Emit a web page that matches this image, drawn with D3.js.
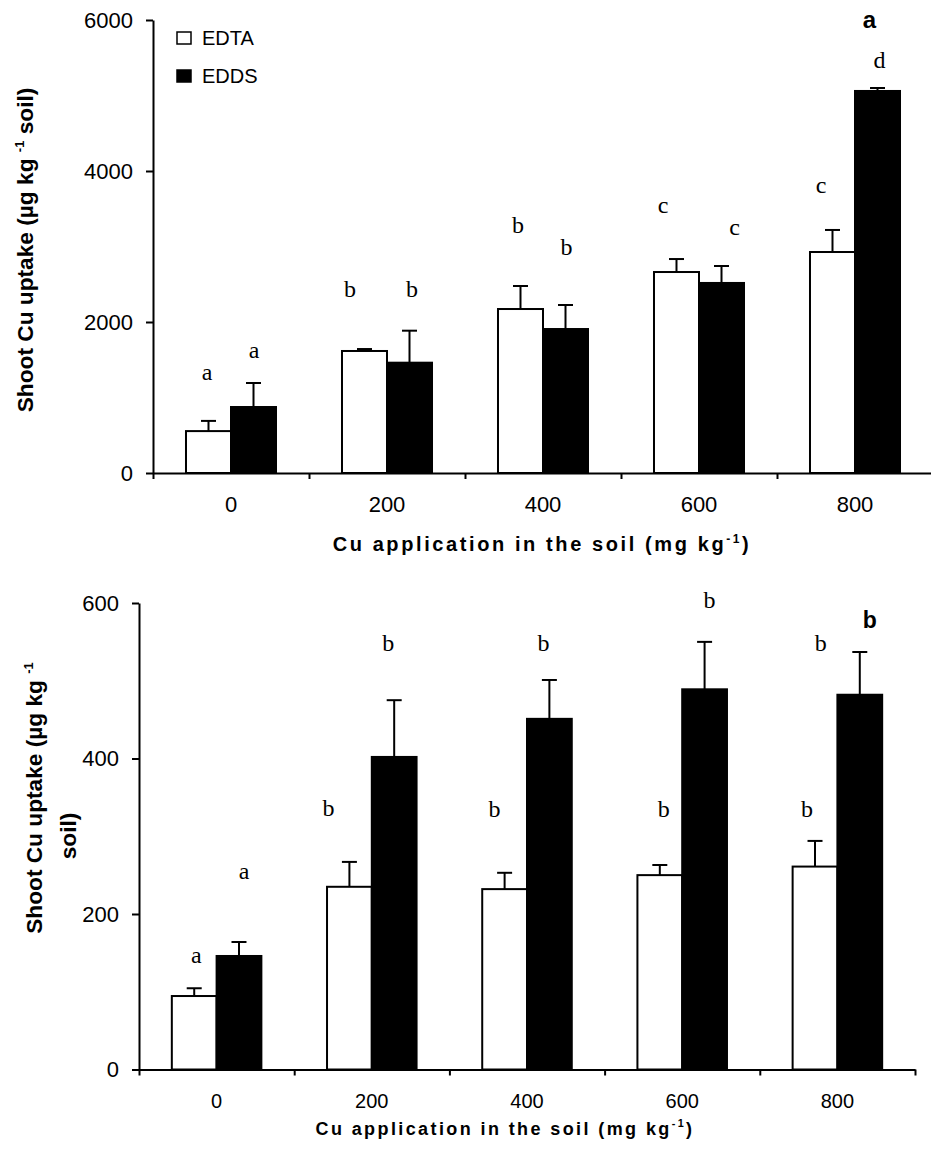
<!DOCTYPE html>
<html>
<head>
<meta charset="utf-8">
<script src="https://cdn.jsdelivr.net/npm/d3@7"></script>
<style>
  html, body { margin: 0; padding: 0; background: #fff; }
  svg { display: block; }
</style>
</head>
<body>
<svg id="fig" width="931" height="1158"></svg>
<script>
// ---- Data ----
const doses = ["0", "200", "400", "600", "800"];
const seriesNames = ["EDTA", "EDDS"];

// Panel a: shoot Cu uptake (µg kg-1 soil)
const edtaA = [555, 1616, 2172, 2662, 2927];
const edtaAErr = [135, 26, 305, 172, 292];
const eddsA = [874, 1461, 1907, 2517, 5060];
const eddsAErr = [318, 424, 318, 225, 39];
const edtaALetters = ["a", "b", "b", "c", "c"];
const eddsALetters = ["a", "b", "b", "c", "d"];
const edtaALetterLevel = [1232, 2331, 3179, 3444, 3709];
const eddsALetterLevel = [1523, 2331, 2887, 3152, 5364];
const yTicksA = [0, 2000, 4000, 6000];

// Panel b: shoot Cu uptake (µg kg-1 soil)
const edtaB = [94.5, 235, 232, 250, 261];
const edtaBErr = [10, 32, 21, 13, 33];
const eddsB = [146, 402, 451, 489, 482];
const eddsBErr = [18, 73, 50, 61, 55];
const edtaBLetters = ["a", "b", "b", "b", "b"];
const eddsBLetters = ["a", "b", "b", "b", "b"];
const edtaBLetterLevel = [137, 326, 325, 325, 325];
const eddsBLetterLevel = [245, 538, 538, 594, 538];
const yTicksB = [0, 200, 400, 600];

// ---- Layout ----
const SANS = "'Liberation Sans', Arial, Helvetica, sans-serif";
const SERIF = "'Liberation Serif', 'Times New Roman', serif";

const panels = [
  {
    edta: edtaA, edtaErr: edtaAErr, edds: eddsA, eddsErr: eddsAErr,
    edtaLetters: edtaALetters, eddsLetters: eddsALetters,
    edtaLevel: edtaALetterLevel, eddsLevel: eddsALetterLevel,
    yTicks: yTicksA, yMax: 6000,
    x0: 153, x1: 933, yTop: 20, yBottom: 473,
    edtaNudge: [-1.5, -14.5, -2.5, -13.5, -11.5],
    eddsNudge: [0.5, 2.5, 1, 13, 2],
    tag: "a", tagLevel: 5894, tagNudge: -8, tagSize: 24,
    xTickSize: 22, xLabelY: 551, xLabelX: 542, xLabelSize: 20, xLabelSpacing: 2.6,
    yTitleLines: [{ x: 33, y: 250, main: "Shoot Cu uptake (µg kg ", sup: "-1", tail: " soil)" }],
    legend: true
  },
  {
    edta: edtaB, edtaErr: edtaBErr, edds: eddsB, eddsErr: eddsBErr,
    edtaLetters: edtaBLetters, eddsLetters: eddsBLetters,
    edtaLevel: edtaBLetterLevel, eddsLevel: eddsBLetterLevel,
    yTicks: yTicksB, yMax: 600,
    x0: 139, x1: 915, yTop: 603, yBottom: 1069.5,
    edtaNudge: [2, -21, -10, 4, -8],
    eddsNudge: [5, -6, -6, 5, -39],
    tag: "b", tagLevel: 568, tagNudge: 10, tagSize: 23,
    xTickSize: 20, xLabelY: 1135, xLabelX: 505, xLabelSize: 18, xLabelSpacing: 2.4,
    yTitleLines: [
      { x: 42, y: 798, main: "Shoot Cu uptake (µg kg ", sup: "-1", tail: "" },
      { x: 76, y: 836, main: "soil)", sup: "", tail: "" }
    ],
    legend: false
  }
];

const svg = d3.select("#fig");
svg.append("rect").attr("width", 931).attr("height", 1158).attr("fill", "#fff");

function drawPanel(p) {
  const g = svg.append("g");

  const x = d3.scaleBand().domain(doses).range([p.x0, p.x1])
    .paddingInner(0.423).paddingOuter(0.2115);
  const xs = d3.scaleBand().domain(seriesNames).range([0, x.bandwidth()]);
  const y = d3.scaleLinear().domain([0, p.yMax]).range([p.yBottom, p.yTop]);
  const xEdges = d3.scaleLinear().domain([0, doses.length]).range([p.x0, p.x1]);

  const rows = doses.map((d, i) => ({
    dose: d,
    EDTA: { v: p.edta[i], e: p.edtaErr[i], letter: p.edtaLetters[i], level: p.edtaLevel[i], nudge: p.edtaNudge[i] },
    EDDS: { v: p.edds[i], e: p.eddsErr[i], letter: p.eddsLetters[i], level: p.eddsLevel[i], nudge: p.eddsNudge[i] }
  }));

  const fillOf = { EDTA: "#fff", EDDS: "#000" };

  // bars, error bars and significance letters
  seriesNames.forEach(s => {
    const items = rows.map(r => Object.assign({ dose: r.dose }, r[s]));
    const cx = d => x(d.dose) + xs(s) + xs.bandwidth() / 2;

    g.selectAll(null).data(items).join("rect")
      .attr("x", d => x(d.dose) + xs(s))
      .attr("y", d => y(d.v))
      .attr("width", xs.bandwidth())
      .attr("height", d => y(0) - y(d.v))
      .attr("fill", fillOf[s])
      .attr("stroke", "#000")
      .attr("stroke-width", 2);

    g.selectAll(null).data(items).join("line")
      .attr("x1", cx).attr("x2", cx)
      .attr("y1", d => y(d.v)).attr("y2", d => y(d.v + d.e))
      .attr("stroke", "#000").attr("stroke-width", 2);

    g.selectAll(null).data(items).join("line")
      .attr("x1", d => cx(d) - 7.5).attr("x2", d => cx(d) + 7.5)
      .attr("y1", d => y(d.v + d.e)).attr("y2", d => y(d.v + d.e))
      .attr("stroke", "#000").attr("stroke-width", 2);

    g.selectAll(null).data(items).join("text")
      .attr("x", d => cx(d) + d.nudge)
      .attr("y", d => y(d.level))
      .attr("text-anchor", "middle")
      .attr("font-family", SERIF)
      .attr("font-size", 24)
      .attr("fill", "#000")
      .text(d => d.letter);
  });

  // panel tag
  const lastDose = doses[doses.length - 1];
  g.append("text")
    .attr("x", x(lastDose) + xs("EDDS") + xs.bandwidth() / 2 + p.tagNudge)
    .attr("y", y(p.tagLevel))
    .attr("text-anchor", "middle")
    .attr("font-family", SANS)
    .attr("font-weight", "bold")
    .attr("font-size", p.tagSize)
    .text(p.tag);

  // x axis: category boundary ticks
  g.append("g")
    .attr("transform", `translate(0,${p.yBottom})`)
    .call(d3.axisBottom(xEdges).tickValues(d3.range(doses.length + 1))
      .tickFormat("").tickSize(6).tickSizeOuter(0))
    .call(a => a.selectAll("path,line").attr("stroke", "#000").attr("stroke-width", 2));

  // x axis: category labels
  g.append("g")
    .attr("transform", `translate(0,${p.yBottom})`)
    .call(d3.axisBottom(x).tickSize(0))
    .call(a => a.select(".domain").remove())
    .call(a => a.selectAll("text")
      .attr("y", 38.5).attr("dy", null)
      .attr("font-family", SANS)
      .attr("font-size", p.xTickSize)
      .attr("fill", "#000"));

  // y axis
  g.append("g")
    .attr("transform", `translate(${p.x0},0)`)
    .call(d3.axisLeft(y).tickValues(p.yTicks).tickFormat(d3.format("d"))
      .tickSize(7).tickPadding(13).tickSizeOuter(0))
    .call(a => a.selectAll("path,line").attr("stroke", "#000").attr("stroke-width", 2))
    .call(a => a.selectAll("text")
      .attr("font-family", SANS)
      .attr("font-size", 22)
      .attr("fill", "#000"));

  // x axis title
  const xt = g.append("text")
    .attr("x", p.xLabelX).attr("y", p.xLabelY)
    .attr("text-anchor", "middle")
    .attr("font-family", SANS).attr("font-weight", "bold")
    .attr("font-size", p.xLabelSize)
    .style("letter-spacing", p.xLabelSpacing + "px");
  xt.append("tspan").text("Cu application in the soil (mg kg");
  xt.append("tspan").attr("dy", -8).attr("font-size", p.xLabelSize * 0.6).text("-1");
  xt.append("tspan").attr("dy", 8).text(")");

  // y axis title
  p.yTitleLines.forEach(line => {
    const t = g.append("text")
      .attr("transform", `translate(${line.x},${line.y}) rotate(-90)`)
      .attr("text-anchor", "middle")
      .attr("font-family", SANS).attr("font-weight", "bold")
      .attr("font-size", 22.7);
    t.append("tspan").text(line.main);
    if (line.sup) {
      t.append("tspan").attr("dy", -9).attr("font-size", 13).text(line.sup);
      if (line.tail) t.append("tspan").attr("dy", 9).text(line.tail);
    }
  });

  // legend
  if (p.legend) {
    const lg = g.append("g").attr("transform", "translate(177,32)");
    seriesNames.forEach((s, i) => {
      lg.append("rect")
        .attr("x", 0).attr("y", i * 38)
        .attr("width", 14).attr("height", 12)
        .attr("fill", fillOf[s]).attr("stroke", "#000").attr("stroke-width", 1.5);
      lg.append("text")
        .attr("x", 25).attr("y", i * 38 + 12.5)
        .attr("font-family", SANS).attr("font-size", 20)
        .text(s);
    });
  }
}

panels.forEach(drawPanel);
</script>
</body>
</html>
